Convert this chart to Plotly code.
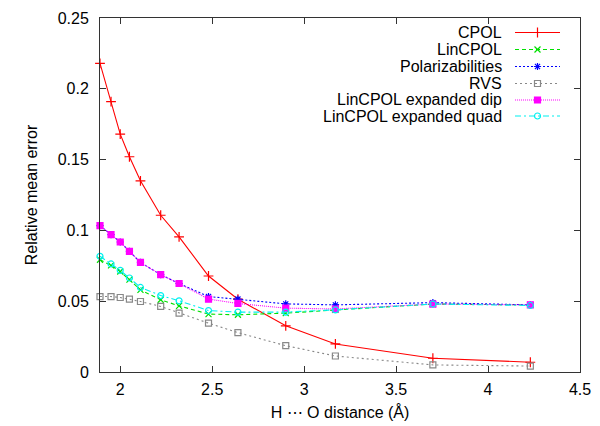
import plotly.graph_objects as go

# ---- data ----
distance = [1.89, 1.95, 2.0, 2.05, 2.11, 2.22, 2.32, 2.48, 2.64, 2.9, 3.17, 3.7, 4.23]
cpol = [0.218, 0.191, 0.168, 0.152, 0.135, 0.1107, 0.0954, 0.0678, 0.0514, 0.0326, 0.0198, 0.0097, 0.0069]
lincpol = [0.0793, 0.0753, 0.071, 0.0652, 0.058, 0.051, 0.0467, 0.0409, 0.0404, 0.0416, 0.0439, 0.048, 0.0474]
polariz = [0.1034, 0.097, 0.0918, 0.0852, 0.0774, 0.0687, 0.0625, 0.0533, 0.0515, 0.0481, 0.0474, 0.049, 0.0474]
rvs = [0.0533, 0.0533, 0.0526, 0.0515, 0.0498, 0.0463, 0.0416, 0.0345, 0.0278, 0.0186, 0.0113, 0.005, 0.0042]
exp_dip = [0.1034, 0.097, 0.0918, 0.0852, 0.0774, 0.0687, 0.0625, 0.0515, 0.0484, 0.0451, 0.0445, 0.048, 0.0474]
exp_quad = [0.0817, 0.0763, 0.0718, 0.0664, 0.0597, 0.054, 0.0503, 0.0434, 0.0423, 0.0423, 0.0439, 0.048, 0.047]

series_names = ["CPOL", "LinCPOL", "Polarizabilities", "RVS",
                "LinCPOL expanded dip", "LinCPOL expanded quad"]
series_values = [cpol, lincpol, polariz, rvs, exp_dip, exp_quad]

x_tick_vals = [2, 2.5, 3, 3.5, 4, 4.5]
x_tick_text = ["2", "2.5", "3", "3.5", "4", "4.5"]
y_tick_vals = [0, 0.05, 0.1, 0.15, 0.2, 0.25]
y_tick_text = ["0", "0.05", "0.1", "0.15", "0.2", "0.25"]

# ---- styles ----
colors = ["#ff0000", "#00e000", "#0000ff", "#888888", "#ff00ff", "#00f0f0"]
dashes = ["solid", "4px,3px", "2px,2px", "2px,3px", "1px,1px", "6px,3px,2px,3px"]
symbols = ["cross-thin", "x-thin", "asterisk", "square-open", "square", "circle-open"]
msizes = [7, 6, 6, 6, 6, 6]

FONT = "Liberation Sans, Arial, Helvetica, sans-serif"
FS = 16

fig = go.Figure()

def mk(i):
    return dict(symbol=symbols[i], size=msizes[i], color=colors[i],
                line=dict(color=colors[i], width=1.2))

for i, (name, vals) in enumerate(zip(series_names, series_values)):
    fig.add_trace(go.Scatter(
        x=distance, y=vals, name=name, mode="lines+markers",
        line=dict(color=colors[i], width=1.1, dash=dashes[i]),
        marker=mk(i), showlegend=False, cliponaxis=False))

# ---- custom gnuplot-style legend (text right, sample on the right) ----
# target plot area on screen: left 100, right 580, top 18, bottom 372
# page body has an 8px margin, so figure coordinates are shifted by 8px
OFF = 8
L, R, T, B = 100 - OFF, 580 - OFF, 18 - OFF, 372 - OFF
W, H = 600, 426
row_y = [32.5, 49.5, 66.5, 83.5, 100, 116]
sx0, sx1 = (515 - 100) / 480, (560 - 100) / 480
tx = (504 - 100) / 480
annotations = []
for i, name in enumerate(series_names):
    fy = (372 - row_y[i]) / 354
    fig.add_trace(go.Scatter(
        x=[sx0, (sx0 + sx1) / 2, sx1], y=[fy, fy, fy], xaxis="x2", yaxis="y2",
        mode="lines", line=dict(color=colors[i], width=1.1, dash=dashes[i]),
        showlegend=False, hoverinfo="skip"))
    fig.add_trace(go.Scatter(
        x=[(sx0 + sx1) / 2], y=[fy], xaxis="x2", yaxis="y2",
        mode="markers", marker=mk(i), showlegend=False, hoverinfo="skip"))
    annotations.append(dict(x=tx, y=fy, xref="paper", yref="paper", text=name,
                            showarrow=False, xanchor="right", yanchor="middle",
                            font=dict(family=FONT, size=FS, color="#000000")))

axis_common = dict(showline=True, linecolor="#333333", linewidth=1, mirror="ticks",
                   ticks="inside", ticklen=6, tickcolor="#333333", showgrid=False,
                   zeroline=False, automargin=False,
                   tickfont=dict(family=FONT, size=FS, color="#000000"))

fig.update_layout(
    width=W, height=H,
    margin=dict(l=L, r=W - R, t=T, b=H - B),
    paper_bgcolor="white", plot_bgcolor="white",
    font=dict(family=FONT, size=FS, color="#000000"),
    xaxis=dict(range=[1.89, 4.5], tickvals=x_tick_vals, ticktext=x_tick_text,
               ticklabelstandoff=3,
               title=dict(text="H ⋯ O distance (Å)", standoff=9,
                          font=dict(family=FONT, size=FS)), **axis_common),
    yaxis=dict(range=[0, 0.25], tickvals=y_tick_vals, ticktext=y_tick_text,
               ticklabelstandoff=7,
               title=dict(text="Relative mean error", standoff=16,
                          font=dict(family=FONT, size=FS)), **axis_common),
    xaxis2=dict(overlaying="x", range=[0, 1], visible=False),
    yaxis2=dict(overlaying="y", range=[0, 1], visible=False),
    annotations=annotations,
    showlegend=False,
)

fig.write_html("out.html")
